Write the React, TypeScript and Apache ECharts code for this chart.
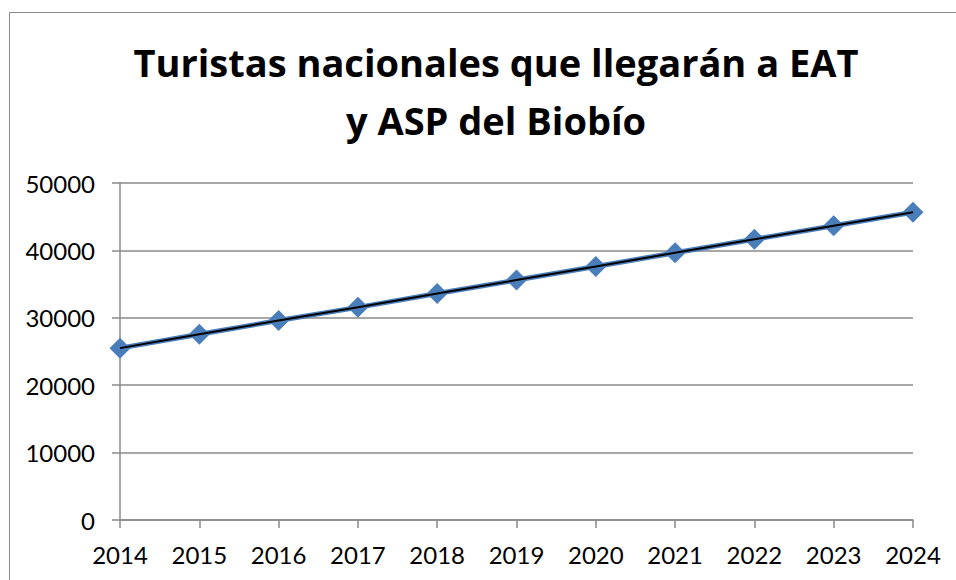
import React, { useEffect, useRef } from "react";
import * as echarts from "echarts";

const titleText = "Turistas nacionales que llegarán a EAT\ny ASP del Biobío";
const years = ["2014", "2015", "2016", "2017", "2018", "2019", "2020", "2021", "2022", "2023", "2024"];
const tourists = [25500, 27550, 29600, 31550, 33600, 35600, 37600, 39650, 41650, 43650, 45650];
const yTicks = { min: 0, max: 50000, interval: 10000 };

export default function App() {
  const ref = useRef<HTMLDivElement>(null);
  useEffect(() => {
    if (!ref.current) return;
    const chart = echarts.init(ref.current, null, { renderer: "svg" });
    const gray = "#8a8a8a";
    const font = "Lato, 'Open Sans', sans-serif";
    chart.setOption({
      animation: false,
      backgroundColor: "#ffffff",
      textStyle: { fontFamily: font },
      title: {
        text: titleText,
        left: 491,
        textAlign: "center",
        top: 28,
        textStyle: {
          fontFamily: "'Open Sans', Lato, sans-serif",
          fontSize: 38,
          fontWeight: "bold",
          lineHeight: 58,
          color: "#000000",
        },
      },
      graphic: [
        {
          type: "rect",
          shape: { x: 9.5, y: 12.5, width: 1000, height: 1000 },
          style: { fill: "none", stroke: gray, lineWidth: 1 },
          silent: true,
          z: -1,
        },
      ],
      grid: { left: 120, right: 43, top: 183, bottom: 60, containLabel: false },
      xAxis: {
        type: "category",
        data: years,
        boundaryGap: false,
        axisLine: { show: true, lineStyle: { color: gray, width: 1.5 } },
        axisTick: { show: true, length: 8, alignWithLabel: true, lineStyle: { color: gray, width: 1.5 } },
        axisLabel: { color: "#000", fontSize: 24, margin: 22, fontFamily: font },
        splitLine: { show: false },
      },
      yAxis: {
        type: "value",
        min: yTicks.min,
        max: yTicks.max,
        interval: yTicks.interval,
        axisLine: { show: true, lineStyle: { color: gray, width: 1.5 } },
        axisTick: { show: true, length: 8, lineStyle: { color: gray, width: 1.5 } },
        axisLabel: {
          color: "#000",
          fontSize: 24,
          margin: 25,
          fontFamily: font,
          formatter: (v: number) => String(v),
        },
        splitLine: { show: true, lineStyle: { color: gray, width: 1.5 } },
      },
      series: [
        {
          type: "line",
          data: tourists,
          symbol: "diamond",
          symbolSize: 21,
          itemStyle: { color: "#4a7ebb" },
          lineStyle: { color: "#4a7ebb", width: 5 },
          z: 2,
        },
        {
          type: "line",
          data: tourists,
          symbol: "none",
          lineStyle: { color: "#000000", width: 2 },
          z: 3,
        },
      ],
    });
    return () => chart.dispose();
  }, []);
  return (
    <div
      ref={ref}
      style={{ position: "fixed", left: 0, top: 0, width: 956, height: 580, background: "#fff" }}
    />
  );
}
